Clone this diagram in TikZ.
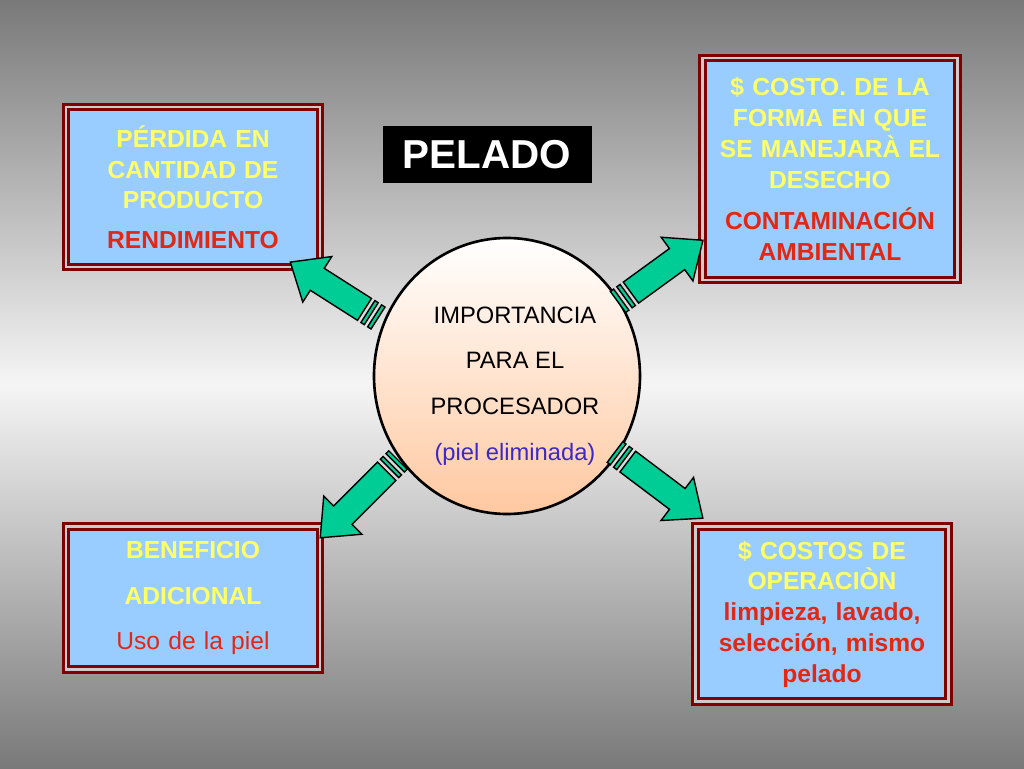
\documentclass[tikz,border=0pt]{standalone}
\usepackage{fontspec}
\setmainfont{Liberation Sans}
\usetikzlibrary{calc,positioning,shapes.geometric}
\definecolor{boxblue}{RGB}{153,204,255}
\definecolor{boxred}{RGB}{128,0,0}
\definecolor{txtyellow}{RGB}{255,255,102}
\definecolor{txtred}{RGB}{224,40,20}
\definecolor{arrgreen}{RGB}{0,204,150}
\definecolor{peach}{RGB}{255,200,160}
\definecolor{purpleblue}{RGB}{60,40,200}
\tikzset{
  infobox/.style={rectangle, fill=boxblue, draw=boxred, line width=1.8pt,
    double=gray!40, double distance=1.2pt, align=center, inner sep=2pt,
    font=\fontsize{14}{17.5}\selectfont\bfseries},
}
% green block arrow: tail x, tail y, angle, length
\newcommand\grarrow[4]{%
  \begin{scope}[shift={(#1,#2)}, rotate=#3, fill=arrgreen, draw=black, line width=0.8pt]
    \filldraw (0,-13) rectangle (4,13);
    \filldraw (8,-13) rectangle (12,13);
    \filldraw (16,-13) -- (#4-32,-13) -- (#4-32,-27) -- (#4,0) -- (#4-32,27) -- (#4-32,13) -- (16,13) -- cycle;
  \end{scope}}
\begin{document}
\begin{tikzpicture}[x=0.02cm, y=0.02cm]
% background
\shade[top color=gray!95!black, bottom color=gray!95!black, middle color=gray!8] (0,0) rectangle (1024,768);
\useasboundingbox (0,0) rectangle (1024,768);
% title
\node[fill=black, text=white, minimum width=209*0.02cm, minimum height=57*0.02cm,
  font=\fontsize{23}{26}\selectfont\bfseries] (title) at (487,613) {PELADO};
% centre
\node[ellipse, draw=black, line width=1.5pt, top color=white, bottom color=peach,
  minimum width=266*0.02cm, minimum height=276*0.02cm, inner sep=0pt] (centre) at (507,392) {};
\node[align=center, font=\fontsize{13.5}{26}\selectfont] (centretext) at (515,382)
  {IMPORTANCIA\\PARA EL\\PROCESADOR\\\textcolor{purpleblue}{(piel eliminada)}};
% boxes
\node[infobox, text width=245*0.02cm, minimum width=254*0.02cm, minimum height=160*0.02cm] (loss) at (193,581)
  {\textcolor{txtyellow}{PÉRDIDA EN\\CANTIDAD DE\\PRODUCTO}\\[5pt]\textcolor{txtred}{RENDIMIENTO}};
\node[infobox, text width=245*0.02cm, minimum width=255*0.02cm, minimum height=222*0.02cm] (waste) at (830,599)
  {\textcolor{txtyellow}{\$ COSTO. DE LA\\FORMA EN QUE\\SE MANEJARÀ EL\\DESECHO}\\[6pt]\textcolor{txtred}{CONTAMINACIÓN\\AMBIENTAL}};
\node[infobox, font=\fontsize{14}{26}\selectfont, text width=245*0.02cm, minimum width=254*0.02cm, minimum height=143*0.02cm] (benefit) at (193,170)
  {\textcolor{txtyellow}{\bfseries BENEFICIO\\\bfseries ADICIONAL}\\\textcolor{txtred}{Uso de la piel}};
\node[infobox, text width=245*0.02cm, minimum width=253*0.02cm, minimum height=175*0.02cm] (cost) at (822,154)
  {\textcolor{txtyellow}{\$ COSTOS DE\\OPERACIÒN}\\\textcolor{txtred}{limpieza, lavado,\\selección, mismo\\pelado}};
% arrows
\grarrow{378}{450}{147.5}{104}
\grarrow{618}{466}{36}{105}
\grarrow{398}{308}{225}{110}
\grarrow{615}{316}{-37}{110}
\end{tikzpicture}
\end{document}
